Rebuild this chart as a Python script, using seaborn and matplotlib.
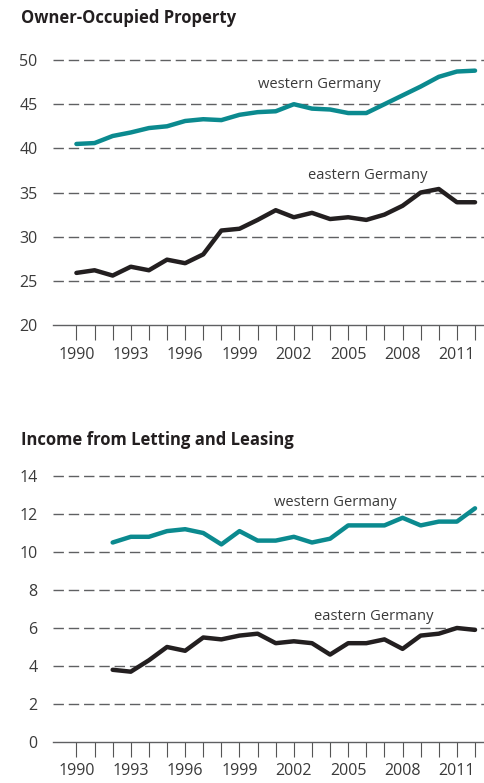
import numpy as np
import pandas as pd
import matplotlib
matplotlib.use("Agg")
import matplotlib.pyplot as plt
import seaborn as sns

years = list(range(1990, 2013))

# Owner-occupied property (%)
owner_west = [40.5, 40.6, 41.4, 41.8, 42.3, 42.5, 43.1, 43.3, 43.2, 43.8, 44.1, 44.2,
              45.0, 44.5, 44.4, 44.0, 44.0, 45.0, 46.0, 47.0, 48.1, 48.7, 48.8]
owner_east = [25.9, 26.2, 25.6, 26.6, 26.2, 27.4, 27.0, 28.0, 30.7, 30.9, 31.9, 33.0,
              32.2, 32.7, 32.0, 32.2, 31.9, 32.5, 33.5, 35.0, 35.4, 33.9, 33.9]

# Income from letting and leasing (%), from 1992
letting_years = list(range(1992, 2013))
letting_west = [10.5, 10.8, 10.8, 11.1, 11.2, 11.0, 10.4, 11.1, 10.6, 10.6, 10.8, 10.5,
                10.7, 11.4, 11.4, 11.4, 11.8, 11.4, 11.6, 11.6, 12.3]
letting_east = [3.8, 3.7, 4.3, 5.0, 4.8, 5.5, 5.4, 5.6, 5.7, 5.2, 5.3, 5.2,
                4.6, 5.2, 5.2, 5.4, 4.9, 5.6, 5.7, 6.0, 5.9]

TEAL = "#0b8a8f"
DARK = "#231f20"
GRID = "#5f6062"
TXT = "#3a3a3a"

sns.set_theme(style="white")
plt.rcParams["font.family"] = ["Open Sans", "DejaVu Sans"]

fig = plt.figure(figsize=(4.85, 7.83), dpi=100)
ax1 = fig.add_axes([0.109, 0.5849, 0.891, 0.3497])
ax2 = fig.add_axes([0.109, 0.0524, 0.891, 0.3518])

df1 = pd.DataFrame({"year": years, "west": owner_west, "east": owner_east})
df2 = pd.DataFrame({"year": letting_years, "west": letting_west, "east": letting_east})


def style_axis(ax, yticks, ylim):
    ax.set_xlim(1988.7, 2012.55)
    ax.set_ylim(*ylim)
    ax.set_yticks(yticks)
    ax.set_yticklabels([str(v) for v in yticks])
    for y in yticks[1:]:
        ax.axhline(y, color=GRID, lw=1.0, ls=(0, (7.5, 3.5)), zorder=0)
    for s in ["top", "right", "left"]:
        ax.spines[s].set_visible(False)
    ax.spines["bottom"].set_color(GRID)
    ax.spines["bottom"].set_linewidth(1.0)
    ax.set_xticks(years)
    ax.set_xticklabels([str(y) if (y - 1990) % 3 == 0 else "" for y in years])
    ax.tick_params(axis="x", direction="out", length=10.5, width=0.8,
                   color="#555555", pad=5, labelsize=11.5, labelcolor=TXT,
                   bottom=True)
    ax.tick_params(axis="y", length=0, pad=11, labelsize=11.5, labelcolor=TXT)
    ax.set_xlabel("")
    ax.set_ylabel("")
    ax.grid(False)


sns.lineplot(data=df1, x="year", y="west", ax=ax1, color=TEAL, lw=3.2)
sns.lineplot(data=df1, x="year", y="east", ax=ax1, color=DARK, lw=3.2)
style_axis(ax1, [20, 25, 30, 35, 40, 45, 50], (20, 51))
ax1.text(2003.4, 47.2, "western Germany", ha="center", va="center",
         fontsize=10.6, color=TXT)
ax1.text(2006.1, 36.9, "eastern Germany", ha="center", va="center",
         fontsize=10.6, color=TXT)

sns.lineplot(data=df2, x="year", y="west", ax=ax2, color=TEAL, lw=3.2)
sns.lineplot(data=df2, x="year", y="east", ax=ax2, color=DARK, lw=3.2)
style_axis(ax2, [0, 2, 4, 6, 8, 10, 12, 14], (0, 14.5))
ax2.text(2004.3, 12.6, "western Germany", ha="center", va="center",
         fontsize=10.6, color=TXT)
ax2.text(2006.4, 6.6, "eastern Germany", ha="center", va="center",
         fontsize=10.6, color=TXT)

fig.text(0.043, 0.977, "Owner-Occupied Property", ha="left", va="center",
         fontsize=12, fontweight="bold", color="#231f20")
fig.text(0.043, 0.438, "Income from Letting and Leasing", ha="left", va="center",
         fontsize=12, fontweight="bold", color="#231f20")

fig.savefig("out.png", dpi=100)
